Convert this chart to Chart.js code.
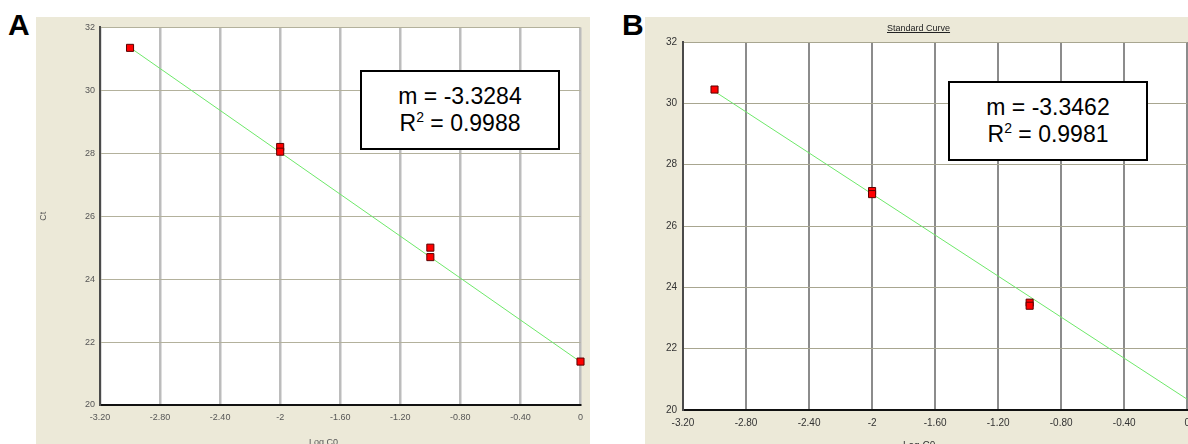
<!DOCTYPE html>
<html>
<head>
<meta charset="utf-8">
<script src="https://cdn.jsdelivr.net/npm/chart.js@4.4.1/dist/chart.umd.min.js"></script>
<style>
    html, body { margin: 0; padding: 0; background: #fff; overflow: hidden; }
    body { position: relative; width: 1188px; height: 444px; font-family: Arial, "Liberation Sans", sans-serif; }
    .panel { position: absolute; background: #ece9d8; overflow: hidden; }
    .tag { position: absolute; font: bold 30px Arial, "Liberation Sans", sans-serif; line-height: 30px; color: #000; }
    .box {
        position: absolute; background: #fff; border: 2px solid #000; box-sizing: border-box;
        display: flex; flex-direction: column; justify-content: center; align-items: center;
        font-size: 23px; line-height: 27px; color: #000;
    }
    .box sup { font-size: 14px; line-height: 0; vertical-align: 9px; }
    .title { position: absolute; font-size: 9px; color: #222; text-decoration: underline; white-space: nowrap; }
    .axisTitle { position: absolute; font-size: 9px; line-height: 10px; color: #555; white-space: nowrap; }
    canvas { position: absolute; left: 0; top: 0; }
</style>
</head>
<body>
<div class="tag" style="left:8px;top:10px">A</div>
<div class="tag" style="left:622px;top:10px">B</div>

<div class="panel" style="left:36px;top:17px;width:554px;height:427px">
    <canvas id="chartA" width="554" height="427"></canvas>
    <div class="axisTitle" style="left:273px;top:420px">Log C0</div>
</div>
<div class="panel" style="left:645px;top:17px;width:543px;height:427px">
    <canvas id="chartB" width="552" height="427"></canvas>
    <div class="title" style="left:242px;top:6px">Standard Curve</div>
    <div class="axisTitle" style="left:258px;top:424px;font-size:10px;color:#333">Log C0</div>
</div>

<div class="box" style="left:360px;top:70px;width:200px;height:80px">
    <div>m = -3.3284</div>
    <div>R<sup>2</sup> = 0.9988</div>
</div>
<div class="box" style="left:948px;top:81px;width:200px;height:80px">
    <div>m = -3.3462</div>
    <div>R<sup>2</sup> = 0.9981</div>
</div>

<script>
// tick labels as printed on the x axis
const xTickLabels = ['-3.20', '-2.80', '-2.40', '-2', '-1.60', '-1.20', '-0.80', '-0.40', '0'];

// panel A: standards (Log C0 vs Ct) and fitted line end points
const logC0A = [-3, -2, -2, -1, -1, 0];
const ctA = [31.35, 28.2, 28.05, 25.0, 24.7, 21.38];
const fitLogA = [-3, 0];
const fitCtA = [31.36, 21.37];

// panel B
const logC0B = [-3, -2, -2, -1, -1];
const ctB = [30.45, 27.14, 27.04, 23.5, 23.4];
const fitLogB = [-3, 0];
const fitCtB = [30.39, 20.35];

const toPoints = (xs, ys) => xs.map((x, i) => ({ x: x, y: ys[i] }));

// white plotting area on the beige panel
const plotBackground = {
    id: 'plotBackground',
    beforeDraw(chart) {
        const a = chart.chartArea;
        const ctx = chart.ctx;
        ctx.save();
        ctx.fillStyle = '#ffffff';
        ctx.fillRect(a.left, a.top, a.right - a.left, a.bottom - a.top);
        ctx.restore();
    }
};

function makeChart(id, cfg) {
    const ctx = document.getElementById(id).getContext('2d');
    return new Chart(ctx, {
        type: 'scatter',
        data: {
            datasets: [{
                label: 'Standards',
                data: toPoints(cfg.xs, cfg.ys),
                pointStyle: 'rect',
                pointRadius: 5,
                backgroundColor: '#ff0000',
                borderColor: '#5a0000',
                borderWidth: 1,
                clip: false,
                order: 1
            }, {
                label: 'Fit',
                data: toPoints(cfg.fitX, cfg.fitY),
                showLine: true,
                pointRadius: 0,
                borderColor: '#6ee86a',
                borderWidth: 1,
                order: 2
            }]
        },
        options: {
            responsive: false,
            animation: false,
            devicePixelRatio: 1,
            layout: { padding: cfg.padding },
            plugins: {
                legend: { display: false },
                tooltip: { enabled: false }
            },
            scales: {
                x: {
                    type: 'linear',
                    min: -3.2,
                    max: 0,
                    afterFit: s => { s.height = cfg.xHeight; },
                    ticks: {
                        stepSize: 0.4,
                        padding: cfg.xTickPad,
                        maxRotation: 0,
                        autoSkip: false,
                        color: cfg.tickColor,
                        font: cfg.tickFont,
                        callback: (v, i) => xTickLabels[i]
                    },
                    grid: { color: cfg.vGridColor, lineWidth: cfg.vGridWidth, drawTicks: false },
                    border: { color: '#111', width: 2 }
                },
                y: {
                    min: 20,
                    max: 32,
                    afterFit: s => { s.width = cfg.yWidth; },
                    ticks: {
                        stepSize: 2,
                        padding: cfg.yTickPad,
                        color: cfg.tickColor,
                        font: cfg.tickFont
                    },
                    grid: { color: cfg.hGridColor, lineWidth: 1, drawTicks: false },
                    border: { color: '#4a4a4a', width: 2 },
                    title: {
                        display: cfg.yTitle,
                        text: 'Ct',
                        color: cfg.tickColor,
                        font: cfg.tickFont,
                        padding: 0
                    }
                }
            }
        },
        plugins: [plotBackground]
    });
}

makeChart('chartA', {
    xs: logC0A, ys: ctA, fitX: fitLogA, fitY: fitCtA,
    padding: { left: 2, right: 7, top: 9, bottom: 0 },
    yWidth: 62, xHeight: 39,
    xTickPad: 7, yTickPad: 5,
    tickColor: '#555', tickFont: { family: 'Arial, "Liberation Sans"', size: 9 },
    vGridColor: '#bcbcbc', vGridWidth: 2.5, hGridColor: '#b3b19c',
    yTitle: true
});

makeChart('chartB', {
    xs: logC0B, ys: ctB, fitX: fitLogB, fitY: fitCtB,
    padding: { left: 0, right: 5, top: 25, bottom: 0 },
    yWidth: 38, xHeight: 34,
    xTickPad: 7, yTickPad: 6,
    tickColor: '#333', tickFont: { family: '"Liberation Sans Narrow", Arial', size: 10 },
    vGridColor: '#8c8c8c', vGridWidth: 2, hGridColor: '#a8a690',
    yTitle: false
});
</script>
</body>
</html>
